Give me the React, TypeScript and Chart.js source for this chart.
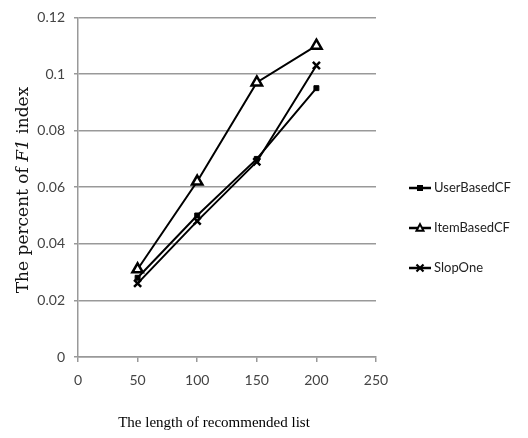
import React, { useEffect, useRef } from "react";
import { Chart, registerables } from "chart.js";

Chart.register(...registerables);

const xValues = [50, 100, 150, 200];
const seriesNames = ["UserBasedCF", "ItemBasedCF", "SlopOne"];
const userBasedCF = [0.028, 0.05, 0.07, 0.095];
const itemBasedCF = [0.031, 0.062, 0.097, 0.11];
const slopOne = [0.026, 0.048, 0.069, 0.103];
const yTicks = [0, 0.02, 0.04, 0.06, 0.08, 0.1, 0.12];
const xTicks = [0, 50, 100, 150, 200, 250];
const yTitleParts = [
  { text: "The percent of ", italic: false },
  { text: "F1", italic: true },
  { text: " index", italic: false },
];
const xTitle = "The length of recommended list";

const markerStyles = ["rect", "triangle", "crossRot"];

function drawMarker(ctx: CanvasRenderingContext2D, style: string, x: number, y: number, r: number) {
  ctx.save();
  ctx.strokeStyle = "#000";
  ctx.fillStyle = "#000";
  if (style === "rect") {
    ctx.fillRect(x - r, y - r, 2 * r, 2 * r);
  } else if (style === "triangle") {
    ctx.lineWidth = 2;
    ctx.fillStyle = "#fff";
    ctx.beginPath();
    ctx.moveTo(x, y - r * 1.1);
    ctx.lineTo(x + r, y + r * 0.8);
    ctx.lineTo(x - r, y + r * 0.8);
    ctx.closePath();
    ctx.fill();
    ctx.stroke();
  } else {
    ctx.lineWidth = 2.2;
    ctx.beginPath();
    ctx.moveTo(x - r, y - r);
    ctx.lineTo(x + r, y + r);
    ctx.moveTo(x + r, y - r);
    ctx.lineTo(x - r, y + r);
    ctx.stroke();
  }
  ctx.restore();
}

const customPlugin = {
  id: "customDecor",
  afterDraw(chart: any) {
    const ctx: CanvasRenderingContext2D = chart.ctx;
    const area = chart.chartArea;
    // Legend
    ctx.save();
    const lx = area.right + 33;
    const ly0 = 188;
    seriesNames.forEach((name, i) => {
      const y = ly0 + i * 40;
      ctx.strokeStyle = "#000";
      ctx.lineWidth = 2.5;
      ctx.beginPath();
      ctx.moveTo(lx, y);
      ctx.lineTo(lx + 22, y);
      ctx.stroke();
      drawMarker(ctx, markerStyles[i], lx + 11, y, i === 0 ? 3 : 3.5);
      ctx.fillStyle = "#222";
      ctx.font = "13px Lato";
      ctx.textBaseline = "middle";
      ctx.textAlign = "left";
      ctx.fillText(name, lx + 25, y);
    });
    ctx.restore();

    // X title
    ctx.save();
    ctx.fillStyle = "#000";
    ctx.font = "15px 'Liberation Serif'";
    ctx.textAlign = "center";
    ctx.textBaseline = "middle";
    ctx.fillText(xTitle, 214, 423);
    ctx.restore();

    // Y title with italic part
    ctx.save();
    ctx.translate(24, 190);
    ctx.rotate(-Math.PI / 2);
    ctx.fillStyle = "#111";
    ctx.textBaseline = "middle";
    ctx.textAlign = "left";
    const fonts = yTitleParts.map((p) => (p.italic ? "italic 17px 'DejaVu Serif'" : "17px 'DejaVu Serif'"));
    let total = 0;
    const widths = yTitleParts.map((p, i) => {
      ctx.font = fonts[i];
      const w = ctx.measureText(p.text).width;
      total += w;
      return w;
    });
    let x = -total / 2;
    yTitleParts.forEach((p, i) => {
      ctx.font = fonts[i];
      ctx.fillText(p.text, x, 0);
      x += widths[i];
    });
    ctx.restore();
  },
};

export default function App() {
  const ref = useRef<HTMLCanvasElement>(null);
  useEffect(() => {
    if (!ref.current) return;
    const mk = (data: number[]) => xValues.map((x, i) => ({ x, y: data[i] }));
    const all = [userBasedCF, itemBasedCF, slopOne];
    const chart = new Chart(ref.current, {
      type: "scatter",
      data: {
        datasets: all.map((d, i) => ({
          label: seriesNames[i],
          data: mk(d),
          showLine: true,
          borderColor: "#000",
          borderWidth: 2,
          pointStyle: markerStyles[i] as any,
          pointRadius: i === 0 ? 3.5 : i === 1 ? 6 : 5,
          pointBorderWidth: i === 0 ? 1 : 2.5,
          pointBackgroundColor: i === 1 ? "#fff" : "#000",
          pointBorderColor: "#000",
        })),
      },
      plugins: [customPlugin],
      options: {
        animation: false,
        responsive: false,
        maintainAspectRatio: false,
        layout: { padding: { left: 0, right: 152, top: 15, bottom: 6 } },
        plugins: { legend: { display: false }, tooltip: { enabled: false } },
        scales: {
          x: {
            type: "linear",
            min: 0,
            max: 250,
            afterBuildTicks: (scale: any) => {
              scale.ticks = xTicks.map((v) => ({ value: v }));
            },
            afterFit: (scale: any) => {
              scale.height = 75;
            },
            ticks: {
              color: "#444",
              font: { family: "Lato", size: 14 },
              padding: 10,
              maxRotation: 0,
            },
            grid: {
              drawOnChartArea: false,
              drawTicks: true,
              tickLength: 5,
              color: "#999",
              lineWidth: 1.5,
            },
            border: { display: true, color: "#999", width: 1.5 },
          },
          y: {
            type: "linear",
            min: 0,
            max: 0.12,
            afterBuildTicks: (scale: any) => {
              scale.ticks = yTicks.map((v) => ({ value: v }));
            },
            afterFit: (scale: any) => {
              scale.width = 78;
            },
            ticks: {
              color: "#444",
              font: { family: "Lato", size: 14 },
              padding: 9,
              callback: (v: any) => String(Number(Number(v).toFixed(2))),
            },
            grid: {
              color: "#999",
              lineWidth: 1.5,
              tickLength: 4,
            },
            border: { display: true, color: "#999", width: 1.5 },
          },
        },
      },
    });
    return () => chart.destroy();
  }, []);
  return (
    <div style={{ position: "fixed", left: 0, top: 0, width: 528, height: 438, background: "#fff" }}>
      <canvas ref={ref} width={528} height={438} style={{ width: 528, height: 438 }} />
    </div>
  );
}
